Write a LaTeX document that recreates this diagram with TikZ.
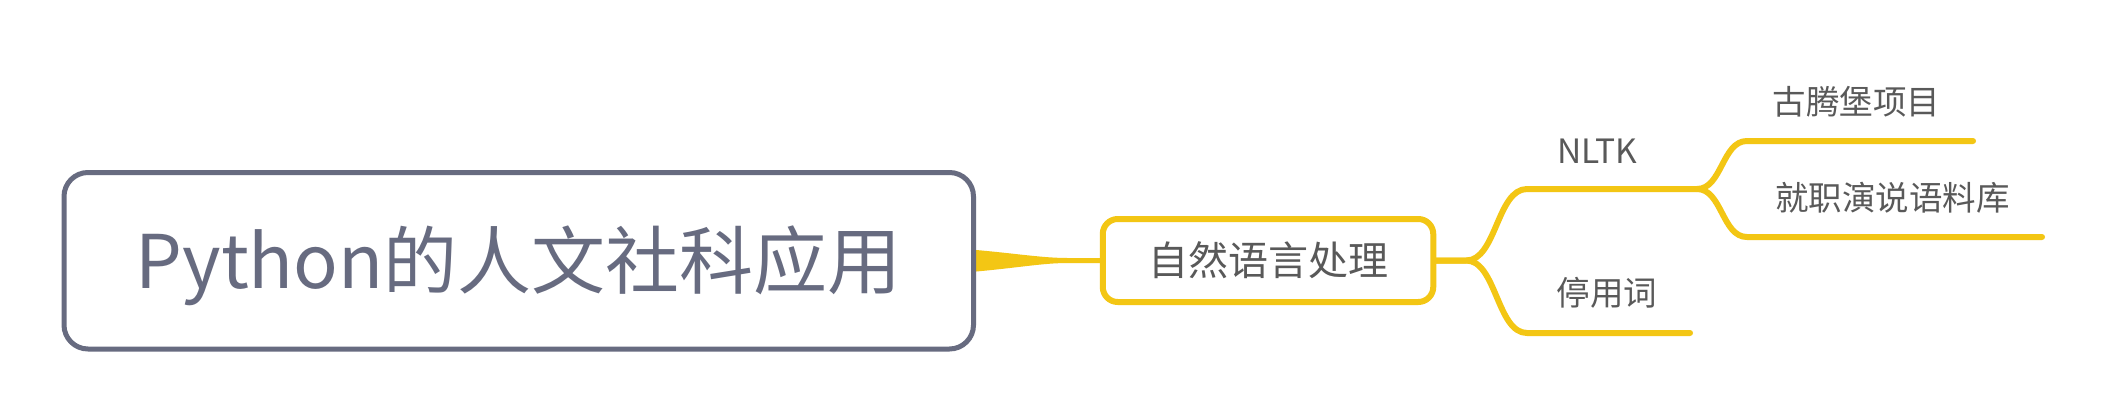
\documentclass[tikz,border=0pt]{standalone}
\usepackage{fontspec}
\newfontfamily\cjk{Noto Sans CJK SC}
\usetikzlibrary{calc}
\pgfdeclarelayer{background}
\pgfsetlayers{background,main}
\definecolor{ycol}{RGB}{243,198,20}
\definecolor{gcol}{RGB}{103,107,128}
\definecolor{tcol}{RGB}{89,89,89}
\tikzset{
  rootbox/.style={draw=gcol, line width=5pt, rounded corners=24pt, fill=white,
    minimum width=909.5pt, minimum height=176.5pt, inner sep=0pt, outer sep=0pt,
    text=gcol, font=\cjk\fontsize{74}{88}\selectfont, text height=63.6pt, text depth=7.4pt},
  subbox/.style={draw=ycol, line width=6pt, rounded corners=15pt, fill=white,
    minimum width=330.5pt, minimum height=83pt, inner sep=0pt, outer sep=0pt,
    text=tcol, font=\cjk\fontsize{40}{48}\selectfont, text height=34.4pt, text depth=4pt},
  leaf/.style={inner sep=0pt, outer sep=0pt, text=tcol,
    font=\cjk\fontsize{33.5}{40}\selectfont, text height=28.8pt, text depth=3.35pt},
  branch/.style={draw=ycol, line width=6pt, line cap=round, line join=round}
}
\begin{document}
\begin{tikzpicture}[x=1pt,y=-1pt]
\useasboundingbox (0,0) rectangle (2104,413);
\node[rootbox] (root) at (518.75,260.75) {Python的人文社科应用};
\node[subbox] (nlp) at (1268,260.5) {自然语言处理};
\node[leaf] (nltk) at (1597.5,150.3) {NLTK};
\node[leaf] (ting) at (1607,293) {停用词};
\node[leaf] (gut) at (1856.5,102) {古腾堡项目};
\node[leaf] (jiu) at (1892.5,198) {就职演说语料库};
\coordinate (nltkL) at (1527,189);
\coordinate (nltkR) at (1697,189);
\coordinate (tingL) at (1527,333);
\coordinate (tingR) at (1690,333);
\coordinate (gutL) at (1747,141);
\coordinate (gutR) at (1973,141);
\coordinate (jiuL) at (1747,237);
\coordinate (jiuR) at (2042,237);
\begin{pgfonlayer}{background}
\fill[white] (0,0) rectangle (2104,413);
\fill[ycol] ($(root.east)+(0,-11)$) .. controls ($(root.east)+(45,-7)$) and ($(nlp.west)+(-60,-2.5)$) .. ($(nlp.west)+(-35,-2.5)$)
  -- ($(nlp.west)+(0,-2.5)$) -- ($(nlp.west)+(0,2.5)$) -- ($(nlp.west)+(-35,2.5)$)
  .. controls ($(nlp.west)+(-60,2.5)$) and ($(root.east)+(45,7)$) .. ($(root.east)+(0,11)$) -- cycle;
\draw[branch] (nlp.east) -- ++(33,0) .. controls +(30,0) and +(-30,0) .. (nltkL) -- (nltkR);
\draw[branch] (nlp.east) -- ++(33,0) .. controls +(30,0) and +(-30,0) .. (tingL) -- (tingR);
\draw[branch] (nltkR) .. controls +(25,0) and +(-25,0) .. (gutL) -- (gutR);
\draw[branch] (nltkR) .. controls +(25,0) and +(-25,0) .. (jiuL) -- (jiuR);
\end{pgfonlayer}
\end{tikzpicture}
\end{document}
